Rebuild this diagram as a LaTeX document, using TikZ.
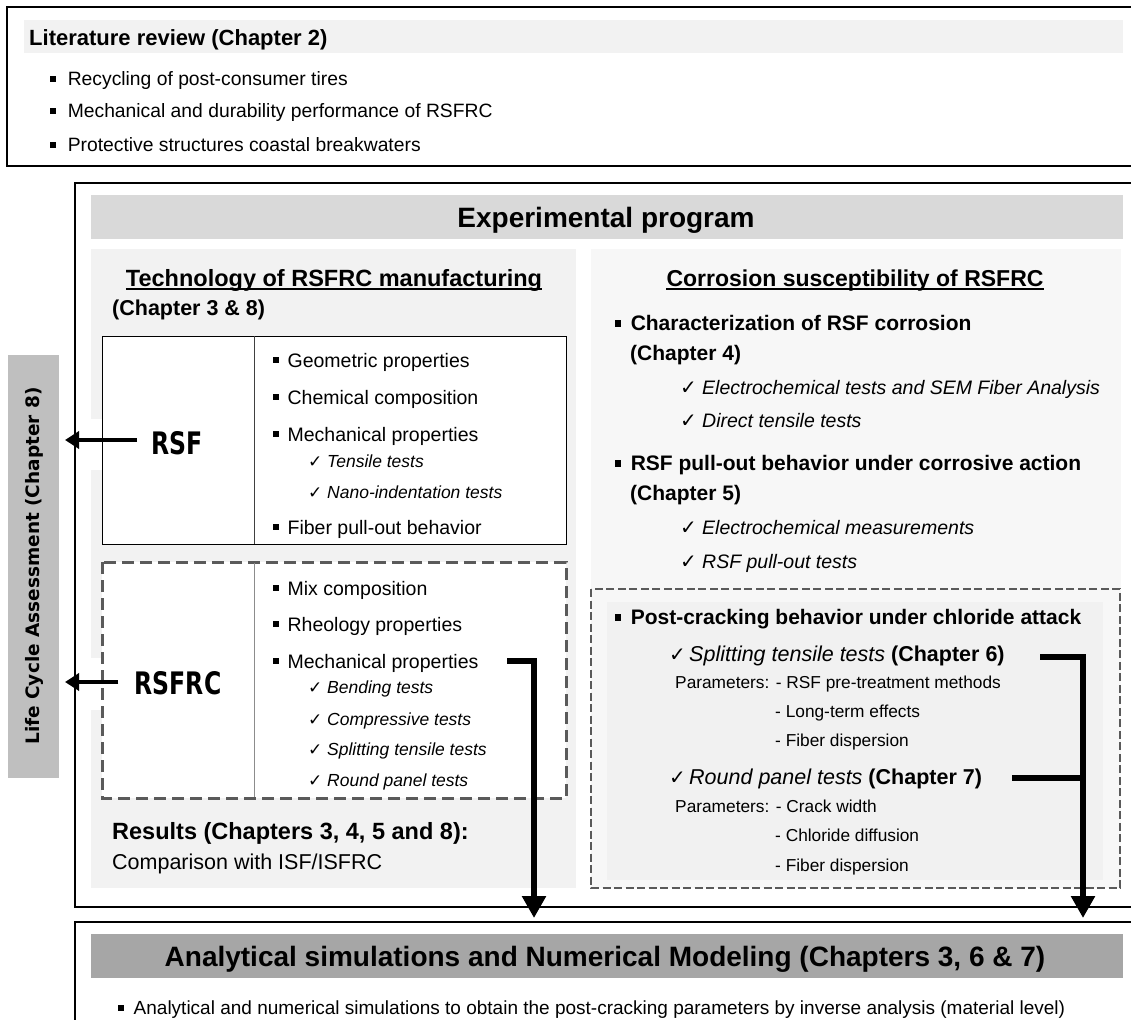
\documentclass[tikz,border=0pt]{standalone}
\usepackage{fontspec}
\setmainfont{Liberation Sans}
\newfontfamily\djv{DejaVu Sans}
\usepackage{graphicx}
\usetikzlibrary{arrows.meta}
\definecolor{hdrlight}{HTML}{F2F2F2}
\definecolor{hdrmid}{HTML}{D9D9D9}
\definecolor{panelL}{HTML}{F2F2F2}
\definecolor{panelR}{HTML}{F7F7F7}
\definecolor{innerR}{HTML}{F1F1F1}
\definecolor{lcagray}{HTML}{BFBFBF}
\definecolor{anagray}{HTML}{A6A6A6}
\definecolor{dashgray}{HTML}{5A5A5A}
\newcommand\fs[1]{\fontsize{#1}{#1}\selectfont}
\newcommand\bul[1][0.45em]{\raisebox{0.19em}{\rule{0.29em}{0.33em}}\hspace{#1}}
\newcommand\chk[2]{\makebox[#1][l]{\djv\upshape\fs{#2}✓}}
\tikzset{
  txl/.style 2 args={anchor=base west, inner sep=0pt, font=\fs{#1}#2, yshift={-0.36*#1pt}},
  txc/.style 2 args={anchor=base, inner sep=0pt, font=\fs{#1}#2, yshift={-0.36*#1pt}},
  frame/.style={draw=black, line width=1.4pt},
  tharrow/.style={line width=6pt, -{Triangle[width=23pt,length=22pt]}},
  thline/.style={line width=6pt},
  lcaarrow/.style={line width=4.5pt, -{Triangle[width=17pt,length=14pt]}},
}
\begin{document}
\begin{tikzpicture}[x=1pt,y=-1pt]
\useasboundingbox (0,0) rectangle (1131,1019);
\clip (0,0) rectangle (1131,1019);
\fill[white] (0,0) rectangle (1131,1019);

% ---------- top box ----------
\fill[hdrlight] (24,20) rectangle (1123,53);
\draw[frame] (7,7) rectangle (1145,166);
\node[txl={22}{\bfseries}] (lit) at (29,38) {Literature review (Chapter 2)};
\node[txl={19.3}{}] (lit1) at (50,79) {\bul[12pt]Recycling of post-consumer tires};
\node[txl={19.3}{}] (lit2) at (50,111) {\bul[12pt]Mechanical and durability performance of RSFRC};
\node[txl={19.3}{}] (lit3) at (50,145) {\bul[12pt]Protective structures coastal breakwaters};

% ---------- middle box ----------
\fill[hdrmid] (91,195) rectangle (1123,239);
\fill[panelL] (91,249) rectangle (576,888);
\fill[panelR] (591,249) rectangle (1121,888);
\fill[white] (59,419) rectangle (103,470);
\fill[white] (59,658) rectangle (103,710);
\draw[frame] (75,183) rectangle (1145,907);

\node[txc={28}{\bfseries}] (exp) at (606,217) {Experimental program};

% left column
\node[txc={23.5}{\bfseries}] (tech) at (334,278) {Technology of RSFRC manufacturing};
\draw[line width=1.8pt] ([yshift=-2.6pt]tech.base west) -- ([yshift=-2.6pt]tech.base east);
\node[txl={21.5}{\bfseries}] (techch) at (112,308) {(Chapter 3 \& 8)};

\draw[fill=white, line width=0.9pt] (102,336) rectangle (566,544);
\draw[line width=0.8pt, black!75] (254,336) -- (254,544);
\draw[fill=white, draw=dashgray, line width=3pt, dash pattern=on 12pt off 6pt] (102,562) rectangle (566,798);
\draw[line width=0.8pt, black!45] (254,563) -- (254,797);

\node[txc={31}{\djv\bfseries}] (rsf) at (177,443) {\scalebox{0.76}[1]{RSF}};
\node[txc={31}{\djv\bfseries}] (rsfrc) at (178,683) {\scalebox{0.76}[1]{RSFRC}};

\node[txl={19.5}{}] (l1) at (273,360) {\bul Geometric properties};
\node[txl={19.5}{}] (l2) at (273,397) {\bul Chemical composition};
\node[txl={19.5}{}] (l3) at (273,434) {\bul Mechanical properties};
\node[txl={17.5}{\itshape}] (l3a) at (308,461) {\chk{19pt}{17}Tensile tests};
\node[txl={17.5}{\itshape}] (l3b) at (308,492) {\chk{19pt}{17}Nano-indentation tests};
\node[txl={19.5}{}] (l4) at (273,527) {\bul Fiber pull-out behavior};

\node[txl={19.5}{}] (m1) at (273,588) {\bul Mix composition};
\node[txl={19.5}{}] (m2) at (273,624) {\bul Rheology properties};
\node[txl={19.5}{}] (m3) at (273,661) {\bul Mechanical properties};
\node[txl={17.5}{\itshape}] (m3a) at (308,687) {\chk{19pt}{17}Bending tests};
\node[txl={17.5}{\itshape}] (m3b) at (308,719) {\chk{19pt}{17}Compressive tests};
\node[txl={17.5}{\itshape}] (m3c) at (308,749) {\chk{19pt}{17}Splitting tensile tests};
\node[txl={17.5}{\itshape}] (m3d) at (308,780) {\chk{19pt}{17}Round panel tests};

\node[txl={23.5}{\bfseries}] (res) at (112,831) {Results (Chapters 3, 4, 5 and 8):};
\node[txl={21.5}{}] (comp) at (112,862) {Comparison with ISF/ISFRC};

% right column
\node[txc={23}{\bfseries}] (corr) at (855,278) {Corrosion susceptibility of RSFRC};
\draw[line width=1.8pt] ([yshift=-2.6pt]corr.base west) -- ([yshift=-2.6pt]corr.base east);

\node[txl={21}{\bfseries}] (c1) at (615,323) {\bul Characterization of RSF corrosion};
\node[txl={21}{\bfseries}] (c1b) at (630,353) {(Chapter 4)};
\node[txl={19.5}{\itshape}] (c1x) at (680,387) {\chk{22pt}{20}Electrochemical tests and SEM Fiber Analysis};
\node[txl={19.5}{\itshape}] (c1y) at (680,420) {\chk{22pt}{20}Direct tensile tests};
\node[txl={21}{\bfseries}] (c2) at (615,463) {\bul RSF pull-out behavior under corrosive action};
\node[txl={21}{\bfseries}] (c2b) at (630,493) {(Chapter 5)};
\node[txl={19.5}{\itshape}] (c2x) at (680,527) {\chk{22pt}{20}Electrochemical measurements};
\node[txl={19.5}{\itshape}] (c2y) at (680,561) {\chk{22pt}{20}RSF pull-out tests};

\draw[fill=panelR, draw=dashgray, line width=2pt, dash pattern=on 8pt off 3.5pt] (591,589) rectangle (1120,888);
\fill[innerR] (607,602) rectangle (1103,880);

\node[txl={21}{\bfseries}] (c3) at (615,617) {\bul Post-cracking behavior under chloride attack};
\node[txl={21.5}{}] (sp) at (669,654) {\chk{20pt}{20}\textit{Splitting tensile tests} \textbf{(Chapter 6)}};
\node[txl={17.3}{}] (sp1) at (675,682) {Parameters: - RSF pre-treatment methods};
\node[txl={17.3}{}] (sp2) at (775,711) {- Long-term effects};
\node[txl={17.3}{}] (sp3) at (775,740) {- Fiber dispersion};
\node[txl={21.5}{}] (rp) at (669,777) {\chk{20pt}{20}\textit{Round panel tests} \textbf{(Chapter 7)}};
\node[txl={17.3}{}] (rp1) at (675,806) {Parameters: - Crack width};
\node[txl={17.3}{}] (rp2) at (775,835) {- Chloride diffusion};
\node[txl={17.3}{}] (rp3) at (775,865) {- Fiber dispersion};

% ---------- bottom box ----------
\fill[anagray] (91,934) rectangle (1123,978);
\draw[frame] (75,1040) -- (75,922) -- (1145,922);
\node[txc={28}{\bfseries}] (ana) at (605,956) {Analytical simulations and Numerical Modeling (Chapters 3, 6 \& 7)};
\node[txl={19}{}] (ana1) at (118,1008) {\bul[10pt]Analytical and numerical simulations to obtain the post-cracking parameters by inverse analysis (material level)};

% ---------- Life cycle assessment ----------
\fill[lcagray] (8,355) rectangle (59,778);
\node[rotate=90, inner sep=0pt, font=\djv\bfseries\fs{18.5}] (lca) at (34,566) {Life Cycle Assessment (Chapter 8)};

% ---------- connectors ----------
\coordinate (lcaA) at (65,440);
\coordinate (lcaB) at (65,682);
\draw[lcaarrow] ([xshift=-14pt]rsf.west |- lcaA) -- (lcaA);
\draw[lcaarrow] ([xshift=-16pt]rsfrc.west |- lcaB) -- (lcaB);

\coordinate (sL) at (507,661);
\coordinate (tL) at (534,918);
\draw[tharrow] (sL) -| (tL);

\coordinate (sR6) at (1040,657);
\coordinate (sR7) at (1012,778);
\coordinate (tR) at (1083,918);
\draw[tharrow] (sR6) -| (tR);
\draw[thline] (sR7) -- (sR7 -| tR);
\end{tikzpicture}
\end{document}
